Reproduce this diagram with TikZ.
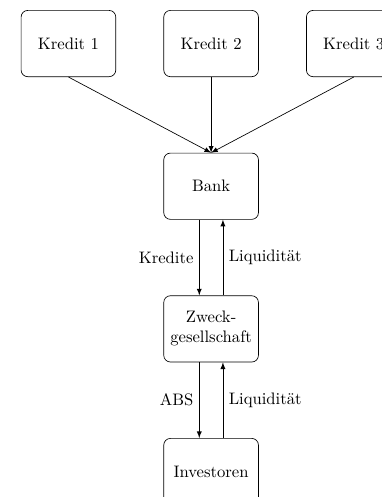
\documentclass[tikz,border=0pt]{standalone}
\usetikzlibrary{positioning}
\begin{document}
\begin{tikzpicture}[
            box/.style = {draw, rounded corners, minimum width = 2cm, minimum height = 1.4cm, align = center},
            >=latex
        ]
            \clip (-4.46, 0.92) rectangle (3.61, -9.58);
            \node [box] (kredit2) at (0, 0) {Kredit 2};
            \node [box, left = 1cm of kredit2] (kredit1) {Kredit 1};
            \node [box, right = 1cm of kredit2] (kredit3) {Kredit 3};
            \node [box, below = 1.6cm of kredit2] (bank) {Bank};
            \node [box, below = 1.6cm of bank] (zweck) {Zweck-\\gesellschaft};
            \node [box, below = 1.6cm of zweck] (investoren) {Investoren};
            \draw [->] (kredit1.south) -- (bank.north);
            \draw [->] (kredit2.south) -- (bank.north);
            \draw [->] (kredit3.south) -- (bank.north);
            \draw [->] ([xshift = -0.25cm] bank.south) -- node [left] {Kredite} ([xshift = -0.25cm] zweck.north);
            \draw [->] ([xshift = 0.25cm] zweck.north) -- node [right] {Liquidität} ([xshift = 0.25cm] bank.south);
            \draw [->] ([xshift = -0.25cm] zweck.south) -- node [left] {ABS} ([xshift = -0.25cm] investoren.north);
            \draw [->] ([xshift = 0.25cm] investoren.north) -- node [right] {Liquidität} ([xshift = 0.25cm] zweck.south);
        \end{tikzpicture}
\end{document}
